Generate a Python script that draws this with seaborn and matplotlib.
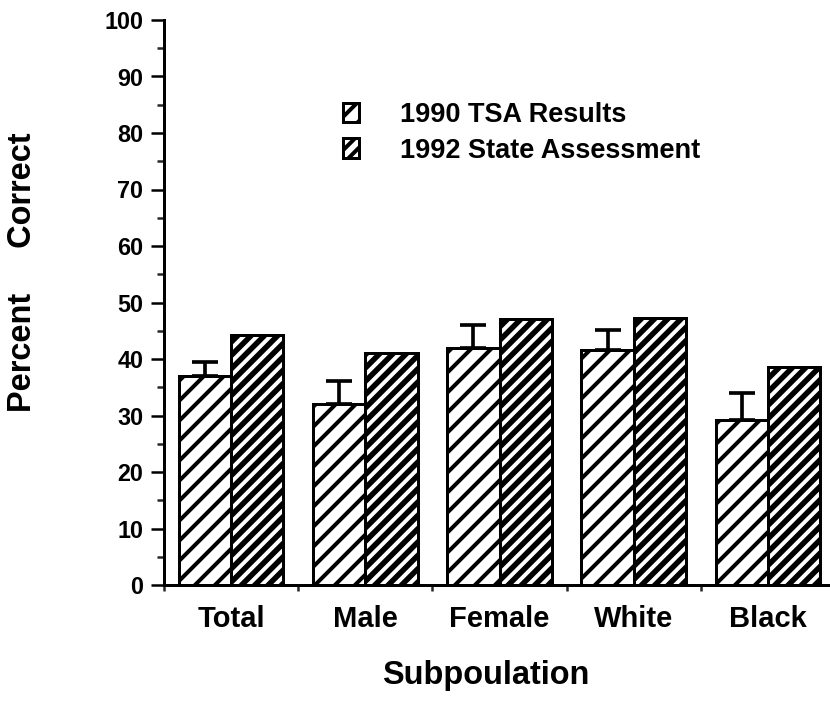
import numpy as np
import pandas as pd
import matplotlib
matplotlib.use("Agg")
import matplotlib.pyplot as plt
import seaborn as sns
from matplotlib.ticker import MultipleLocator, FixedLocator

categories = ["Total", "Male", "Female", "White", "Black"]
tsa_1990 = [37.0, 32.0, 41.9, 41.6, 29.2]
tsa_1990_err_up = [2.5, 4.1, 4.1, 3.5, 4.8]
state_1992 = [44.2, 41.0, 47.1, 47.3, 38.6]
series_names = ["1990 TSA Results", "1992 State Assessment"]

sns.set_theme(style="white")
plt.rcParams["font.family"] = ["Liberation Sans", "DejaVu Sans"]
plt.rcParams["font.weight"] = "bold"
plt.rcParams["text.color"] = "black"
plt.rcParams["hatch.linewidth"] = 2.4

df = pd.DataFrame({
    "Subpopulation": categories * 2,
    "Series": [series_names[0]] * 5 + [series_names[1]] * 5,
    "Value": tsa_1990 + state_1992,
})

DPI = 120
fig = plt.figure(figsize=(830 / DPI, 711 / DPI), dpi=DPI)
ax = fig.add_axes([164 / 830, 1 - 585 / 711, (835 - 164) / 830, (585 - 20) / 711])

sns.barplot(data=df, x="Subpopulation", y="Value", hue="Series",
            order=categories, hue_order=series_names,
            palette=["white", "white"], edgecolor="black", linewidth=1.8,
            width=0.78, errorbar=None, legend=False, ax=ax)

hatches = ["//", "///"]
hlw = [2.4, 3.3]
for cont, h, lw in zip(ax.containers, hatches, hlw):
    for p in cont.patches:
        p.set_hatch(h)
        p.set_edgecolor("black")
        try:
            p.set_hatch_linewidth(lw)
        except Exception:
            pass

# error bars on the 1990 series (upward only)
xs = [p.get_x() + p.get_width() / 2 for p in ax.containers[0].patches]
ax.errorbar(xs, tsa_1990, yerr=[np.zeros(len(tsa_1990)), tsa_1990_err_up],
            fmt="none", ecolor="black", elinewidth=2.2, capsize=8, capthick=2.2,
            zorder=1)

ax.set_ylim(0, 100)
ax.set_xlim(-0.5, 4.5)

ax.yaxis.set_major_locator(MultipleLocator(10))
ax.yaxis.set_minor_locator(MultipleLocator(5))
ax.tick_params(axis="y", which="major", left=True, length=7.8, width=1.5,
               direction="out", pad=4.5, labelsize=14, colors="black")
ax.tick_params(axis="y", which="minor", left=True, length=4.2, width=1.5,
               direction="out")
for t in ax.get_yticklabels():
    t.set_fontweight("bold")

ax.xaxis.set_minor_locator(FixedLocator([-0.5, 0.5, 1.5, 2.5, 3.5, 4.5]))
ax.tick_params(axis="x", which="major", bottom=False, length=0, pad=12,
               labelsize=17.5, colors="black")
ax.tick_params(axis="x", which="minor", bottom=True, length=3.6, width=1.5,
               direction="out")
for t in ax.get_xticklabels():
    t.set_fontweight("bold")

for s in ["top", "right"]:
    ax.spines[s].set_visible(False)
for s in ["left", "bottom"]:
    ax.spines[s].set_color("black")
    ax.spines[s].set_linewidth(1.8)

ax.set_xlabel("Subpoulation", fontsize=19.5, fontweight="bold", color="black")
ax.xaxis.set_label_coords(486 / 830, 1 - 660 / 711, transform=fig.transFigure)
ax.set_ylabel("Percent     Correct", fontsize=19.5, fontweight="bold", color="black")
ax.yaxis.set_label_coords(38 / 830, 1 - 272 / 711, transform=fig.transFigure)

handles = [ax.containers[0].patches[0], ax.containers[1].patches[0]]
leg = ax.legend(handles=handles, labels=series_names, loc="upper left",
                bbox_to_anchor=(343 / 830, 1 - 102 / 711),
                bbox_transform=fig.transFigure, frameon=False,
                borderpad=0, borderaxespad=0, handlelength=0.6, handleheight=0.7,
                handletextpad=1.5, labelspacing=0.35, labelcolor="black",
                prop={"size": 16.3, "weight": "bold"})

fig.savefig("out.png", dpi=DPI)
